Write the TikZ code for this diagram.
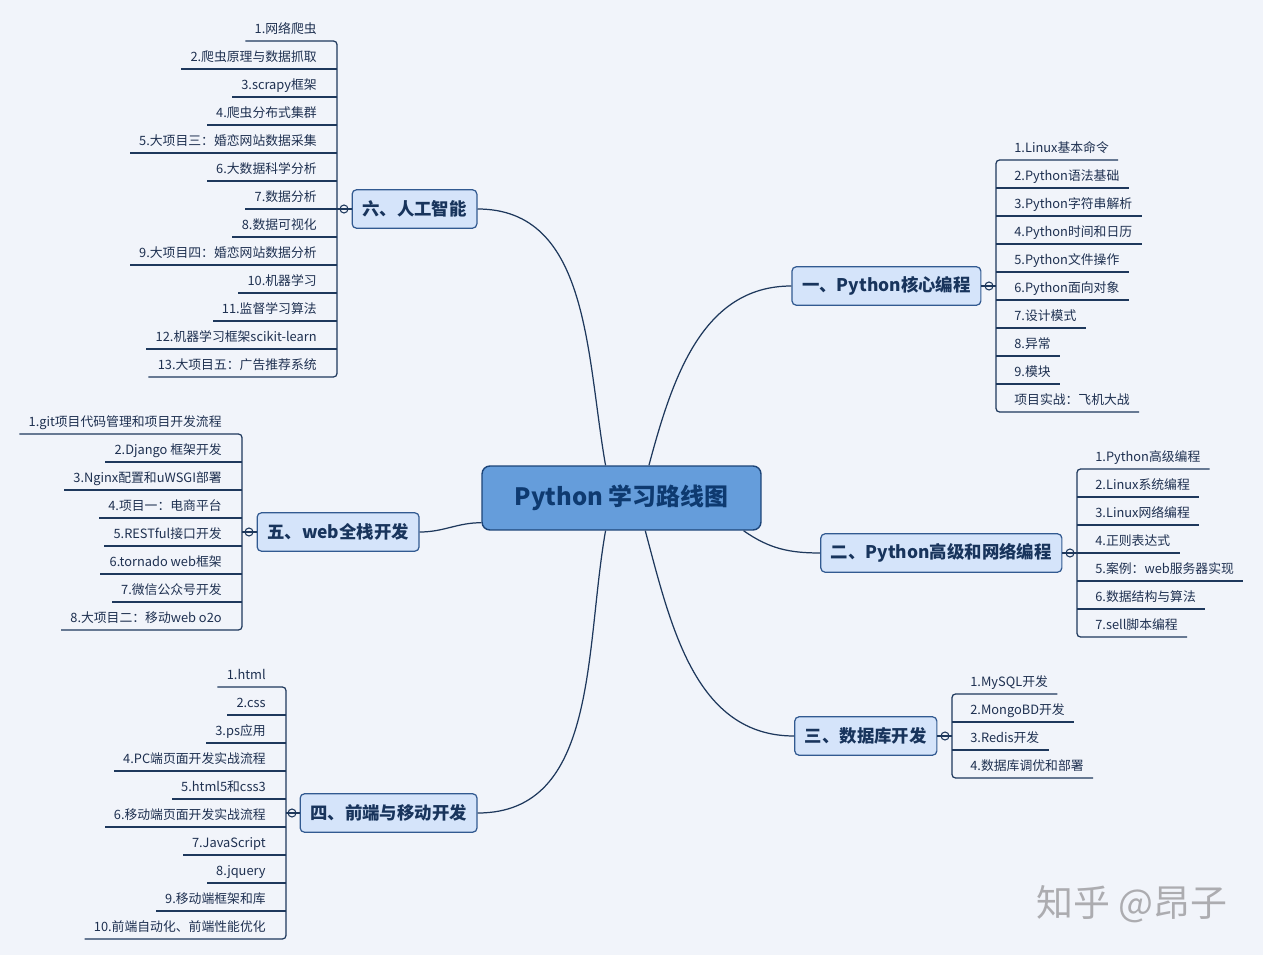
\documentclass[tikz,border=0pt]{standalone}
\usepackage{fontspec}
\setmainfont{Noto Sans CJK SC}
\usetikzlibrary{positioning}
\definecolor{paper}{RGB}{241,244,250}
\definecolor{rootfill}{RGB}{101,157,219}
\definecolor{rootline}{RGB}{28,68,120}
\definecolor{roottext}{RGB}{14,58,112}
\definecolor{branchfill}{RGB}{213,228,250}
\definecolor{branchline}{RGB}{50,90,145}
\definecolor{branchtext}{RGB}{24,52,92}
\definecolor{leaftext}{RGB}{30,48,80}
\definecolor{wirecol}{RGB}{30,56,92}
\definecolor{stampcol}{RGB}{172,172,176}
\tikzset{
	root/.style={draw=rootline, fill=rootfill, line width=0.8pt, rounded corners=4.5pt,
		minimum width=5.58cm, minimum height=1.28cm, text=roottext,
		font=\fontsize{13.6}{16}\selectfont\bfseries},
	branch/.style={draw=branchline, fill=branchfill, line width=0.7pt, rounded corners=2.5pt,
		minimum height=0.77cm, inner xsep=5.8pt, text=branchtext,
		font=\fontsize{9.9}{12}\selectfont\bfseries},
	toggle/.style={circle, draw=wirecol, line width=0.6pt, inner sep=0pt, minimum size=0.16cm},
	leaf/.style={text=leaftext, font=\fontsize{7.3}{9}\selectfont, inner xsep=0.18cm,
		inner ysep=2.5pt, text height=6.5pt, text depth=1.5pt},
	link/.style={draw=wirecol, line width=0.7pt},
	watermark/.style={text=stampcol, font=\fontsize{21}{24}\selectfont}
}
\begin{document}
\begin{tikzpicture}[x=0.02cm, y=-0.02cm]
	\fill[paper] (0,0) rectangle (1263,955);
	\useasboundingbox (0,0) rectangle (1263,955);

	\node[root] (root) at (621.5,498) {Python 学习路线图};

	% branches with their toggles
	\node[toggle] (c1) at (989,286) {};
	\node[branch, left=0.06cm of c1]  (b1) {一、Python核心编程};
	\node[toggle] (c2) at (1070,553) {};
	\node[branch, left=0.06cm of c2]  (b2) {二、Python高级和网络编程};
	\node[toggle] (c3) at (945,736) {};
	\node[branch, left=0.06cm of c3]  (b3) {三、数据库开发};
	\node[toggle] (c4) at (292,813) {};
	\node[branch, right=0.06cm of c4] (b4) {四、前端与移动开发};
	\node[toggle] (c5) at (249,532) {};
	\node[branch, right=0.06cm of c5] (b5) {五、web全栈开发};
	\node[toggle] (c6) at (344,209) {};
	\node[branch, right=0.06cm of c6] (b6) {六、人工智能};

	\coordinate (v1) at (996,286);
	\coordinate (v2) at (1077,553);
	\coordinate (v3) at (952,736);
	\coordinate (v4) at (286,813);
	\coordinate (v5) at (242,532);
	\coordinate (v6) at (337,209);

	\draw[link] (root.50)   to[out=75,  in=180] (b1.west);
	\draw[link] (root.-15)  to[out=-35, in=180] (b2.west);
	\draw[link] (root.-54)  to[out=-75, in=180] (b3.west);
	\draw[link] (root.-116) to[out=-100, in=0]  (b4.east);
	\draw[link] (root.190)  to[out=180, in=0]   (b5.east);
	\draw[link] (root.116)  to[out=100, in=0]   (b6.east);

	\foreach \n in {1,2,3}
		\draw[link] (b\n.east) -- (v\n);
	\foreach \n in {4,5,6}
		\draw[link] (b\n.west) -- (v\n);

	% leaves, right side
	\foreach \t [count=\i] in {1.Linux基本命令, 2.Python语法基础, 3.Python字符串解析,
		4.Python时间和日历, 5.Python文件操作, 6.Python面向对象, 7.设计模式, 8.异常, 9.模块,
		项目实战：飞机大战}
		\node[leaf, anchor=south west] (b1-\i) at (1005,132+28*\i) {\t};
	\foreach \t [count=\i] in {1.Python高级编程, 2.Linux系统编程, 3.Linux网络编程, 4.正则表达式,
		5.案例：web服务器实现, 6.数据结构与算法, 7.sell脚本编程}
		\node[leaf, anchor=south west] (b2-\i) at (1086,441+28*\i) {\t};
	\foreach \t [count=\i] in {1.MySQL开发, 2.MongoBD开发, 3.Redis开发, 4.数据库调优和部署}
		\node[leaf, anchor=south west] (b3-\i) at (961,666+28*\i) {\t};

	% leaves, left side
	\foreach \t [count=\i] in {1.html, 2.css, 3.ps应用, 4.PC端页面开发实战流程, 5.html5和css3,
		6.移动端页面开发实战流程, 7.JavaScript, 8.jquery, 9.移动端框架和库,
		10.前端自动化、前端性能优化}
		\node[leaf, anchor=south east] (b4-\i) at (275,659+28*\i) {\t};
	\foreach \t [count=\i] in {1.git项目代码管理和项目开发流程, 2.Django 框架开发,
		3.Nginx配置和uWSGI部署, 4.项目一：电商平台, 5.RESTful接口开发, 6.tornado web框架,
		7.微信公众号开发, 8.大项目二：移动web o2o}
		\node[leaf, anchor=south east] (b5-\i) at (231,406+28*\i) {\t};
	\foreach \t [count=\i] in {1.网络爬虫, 2.爬虫原理与数据抓取, 3.scrapy框架, 4.爬虫分布式集群,
		5.大项目三：婚恋网站数据采集, 6.大数据科学分析, 7.数据分析, 8.数据可视化,
		9.大项目四：婚恋网站数据分析, 10.机器学习, 11.监督学习算法, 12.机器学习框架scikit-learn,
		13.大项目五：广告推荐系统}
		\node[leaf, anchor=south east] (b6-\i) at (326,13+28*\i) {\t};

	% underlines and brackets
	\foreach \n/\m in {1/10, 2/7, 3/4} {
		\draw[link, rounded corners=2pt] (b\n-1.south east) -- (v\n |- b\n-1.south)
			-- (v\n |- b\n-\m.south) -- (b\n-\m.south east);
		\foreach \i in {2,...,\numexpr\m-1\relax}
			\draw[link] (v\n |- b\n-\i.south) -- (b\n-\i.south east);
	}
	\foreach \n/\m in {4/10, 5/8, 6/13} {
		\draw[link, rounded corners=2pt] (b\n-1.south west) -- (v\n |- b\n-1.south)
			-- (v\n |- b\n-\m.south) -- (b\n-\m.south west);
		\foreach \i in {2,...,\numexpr\m-1\relax}
			\draw[link] (v\n |- b\n-\i.south) -- (b\n-\i.south west);
	}

	\node[watermark] (stamp) at (1132,904) {知乎 @昂子};
\end{tikzpicture}
\end{document}
